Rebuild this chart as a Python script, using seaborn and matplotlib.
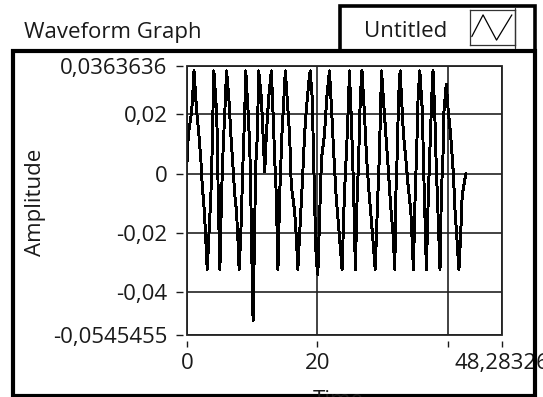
import matplotlib
matplotlib.use("Agg")
import matplotlib.pyplot as plt
from matplotlib.patches import Rectangle
from matplotlib.lines import Line2D
import seaborn as sns
import pandas as pd

# waveform (time, amplitude) - one row per half cycle
time = [0.00, 0.20, 0.71, 0.97, 1.07,
        1.48, 1.83, 2.14, 2.34, 2.65, 2.85, 3.10,
        3.36, 3.66, 3.87, 4.02, 4.12,
        4.53, 4.68, 4.78, 4.94, 5.04,
        5.29, 5.55, 5.80, 6.06,
        6.41, 6.72, 6.97, 7.33, 7.58, 7.84, 7.99,
        8.24, 8.60, 8.85, 9.01,
        9.36, 9.62, 9.87, 10.02, 10.13,
        10.38, 10.53, 10.79, 10.99,
        11.40, 11.65, 11.91,
        12.16, 12.52, 12.93,
        13.18, 13.44, 13.69, 13.84, 13.94,
        14.20, 14.55, 14.86, 15.07,
        15.73, 15.98, 16.49, 16.75, 16.99,
        17.25, 17.66, 18.02, 18.27, 18.63, 18.88,
        19.19, 19.39, 19.59, 19.80, 20.05,
        20.31, 20.61, 21.07, 21.42, 21.83,
        22.18, 22.44, 22.85, 23.36, 23.77,
        24.12, 24.48, 24.78, 24.89,
        25.14, 25.39, 25.65, 25.80,
        26.06, 26.31, 26.56, 26.82,
        27.18, 27.53, 27.94, 28.45, 28.85,
        29.21, 29.47, 29.72, 29.82,
        30.23, 30.74, 31.25, 31.60, 31.85,
        32.01, 32.26, 32.42, 32.67,
        33.18, 33.54, 33.89, 34.30, 34.55, 34.71,
        34.91, 35.22, 35.42, 35.68,
        36.08, 36.23, 36.44, 36.59, 36.69,
        36.99, 37.25, 37.51, 37.71,
        37.97, 38.17, 38.37, 38.63, 38.78,
        38.98, 39.29, 39.39, 39.74,
        40.05, 40.41, 40.81, 41.07, 41.42, 41.68,
        41.94, 42.18, 42.44, 42.75]
amplitude = [0.0040, 0.0131, 0.0210, 0.0301, 0.0347,
             0.0210, 0.0131, 0.0040, -0.0040, -0.0125, -0.0210, -0.0324,
             -0.0210, -0.0074, 0.0091, 0.0256, 0.0347,
             0.0210, 0.0091, -0.0074, -0.0233, -0.0324,
             -0.0074, 0.0091, 0.0210, 0.0347,
             0.0256, 0.0131, 0.0051, -0.0074, -0.0125, -0.0239, -0.0324,
             -0.0210, 0.0051, 0.0210, 0.0347,
             0.0210, 0.0091, -0.0176, -0.0392, -0.0495,
             -0.0176, 0.0028, 0.0131, 0.0347,
             0.0256, 0.0131, 0.0006,
             0.0131, 0.0256, 0.0347,
             0.0210, 0.0051, -0.0074, -0.0233, -0.0324,
             -0.0074, 0.0131, 0.0256, 0.0347,
             0.0131, -0.0040, -0.0125, -0.0210, -0.0324,
             -0.0210, -0.0040, 0.0131, 0.0210, 0.0301, 0.0347,
             0.0256, 0.0063, -0.0119, -0.0290, -0.0341,
             -0.0154, 0.0051, 0.0131, 0.0256, 0.0347,
             0.0210, 0.0091, -0.0074, -0.0210, -0.0324,
             -0.0074, 0.0091, 0.0256, 0.0347,
             0.0210, 0.0051, -0.0154, -0.0324,
             -0.0097, 0.0051, 0.0256, 0.0347,
             0.0210, 0.0051, -0.0074, -0.0210, -0.0324,
             -0.0097, 0.0051, 0.0256, 0.0347,
             0.0210, 0.0051, -0.0119, -0.0210, -0.0324,
             -0.0074, 0.0091, 0.0256, 0.0347,
             0.0131, 0.0051, -0.0040, -0.0125, -0.0245, -0.0324,
             -0.0119, 0.0091, 0.0256, 0.0347,
             0.0210, 0.0051, -0.0119, -0.0233, -0.0324,
             -0.0074, 0.0091, 0.0256, 0.0347,
             0.0210, 0.0051, -0.0074, -0.0233, -0.0324,
             -0.0074, 0.0091, 0.0210, 0.0301,
             0.0210, 0.0131, 0.0006, -0.0119, -0.0239, -0.0324,
             -0.0210, -0.0074, -0.0040, 0.0000]

y_ticks = [0.0363636, 0.02, 0, -0.02, -0.04, -0.0545455]
y_labels = ["0,0363636", "0,02", "0", "-0,02", "-0,04", "-0,0545455"]
x_ticks = [0, 20, 40, 48.28326]
x_labels = ["0", "20", "", "48,28326"]
legend_name = "Untitled"
icon_x = [0.04, 0.29, 0.59, 0.93]
icon_y = [0.24, 0.86, 0.14, 0.86]

df = pd.DataFrame({"Time": time, "Amplitude": amplitude})

sns.set_theme(style="white")
plt.rcParams["font.family"] = ["Open Sans", "DejaVu Sans"]
ink = "#1a1a1a"

W, H = 543, 397
fig = plt.figure(figsize=(W / 100, H / 100), dpi=100)
fig.patch.set_facecolor("white")

ax = fig.add_axes([187 / W, 62 / H, 315 / W, 269 / H])
ax.grid(True, color="#222222", lw=1.2)
sns.lineplot(data=df, x="Time", y="Amplitude", ax=ax, color="black", lw=1.4,
             sort=False, estimator=None, antialiased=False, zorder=3)
ax.set_xlim(0, 48.28326)
ax.set_ylim(-0.0545455, 0.0363636)
ax.set_xticks(x_ticks)
ax.set_xticklabels(x_labels)
ax.set_yticks(y_ticks)
ax.set_yticklabels(y_labels)
ax.set_xlabel("")
ax.set_ylabel("")

# ticks sit a little away from the plot frame, like the LabVIEW scales
for s in ax.spines.values():
    s.set_visible(False)
ax.spines["left"].set_position(("outward", 3))
ax.spines["bottom"].set_position(("outward", 4))
ax.tick_params(axis="y", direction="out", length=5, width=1, color=ink,
               pad=6, labelsize=16, labelcolor=ink, left=True)
ax.tick_params(axis="x", direction="out", length=4.3, width=1, color=ink,
               pad=5, labelsize=16, labelcolor=ink, bottom=True)
ax.add_patch(Rectangle((0, 0), 1, 1, transform=ax.transAxes, fill=False,
                       ec="#222222", lw=1.3, clip_on=False, zorder=4))

# outer frame of the graph control
fig.add_artist(Rectangle((13 / W, 1 / H), 522 / W, 345 / H, transform=fig.transFigure,
                         fill=False, ec="black", lw=3))
# plot legend box
fig.add_artist(Rectangle((340 / W, 346 / H), 195 / W, 45 / H, transform=fig.transFigure,
                         fill=False, ec="black", lw=2.6))
fig.add_artist(Line2D([515 / W, 515 / W], [349 / H, 389 / H], transform=fig.transFigure,
                      color="#333333", lw=0.9))
fig.text(406 / W, (H - 37) / H, legend_name, ha="center", va="baseline",
         fontsize=16, color=ink)
icon = fig.add_axes([470 / W, (H - 45) / H, 45 / W, 35 / H])
icon.plot(icon_x, icon_y, color="black", lw=0.9)
icon.set_xlim(0, 1)
icon.set_ylim(0, 1)
icon.set_xticks([])
icon.set_yticks([])
for s in icon.spines.values():
    s.set_color("#333333")
    s.set_linewidth(0.9)

fig.text(24 / W, (H - 38) / H, "Waveform Graph", ha="left", va="baseline",
         fontsize=16, color=ink)
fig.text(35 / W, (H - 202) / H, "Amplitude", ha="center", va="center",
         rotation=90, fontsize=16, color=ink)
fig.text(338 / W, -9 / H, "Time", ha="center", va="baseline",
         fontsize=16, color=ink)

fig.savefig("out.png", dpi=100)
